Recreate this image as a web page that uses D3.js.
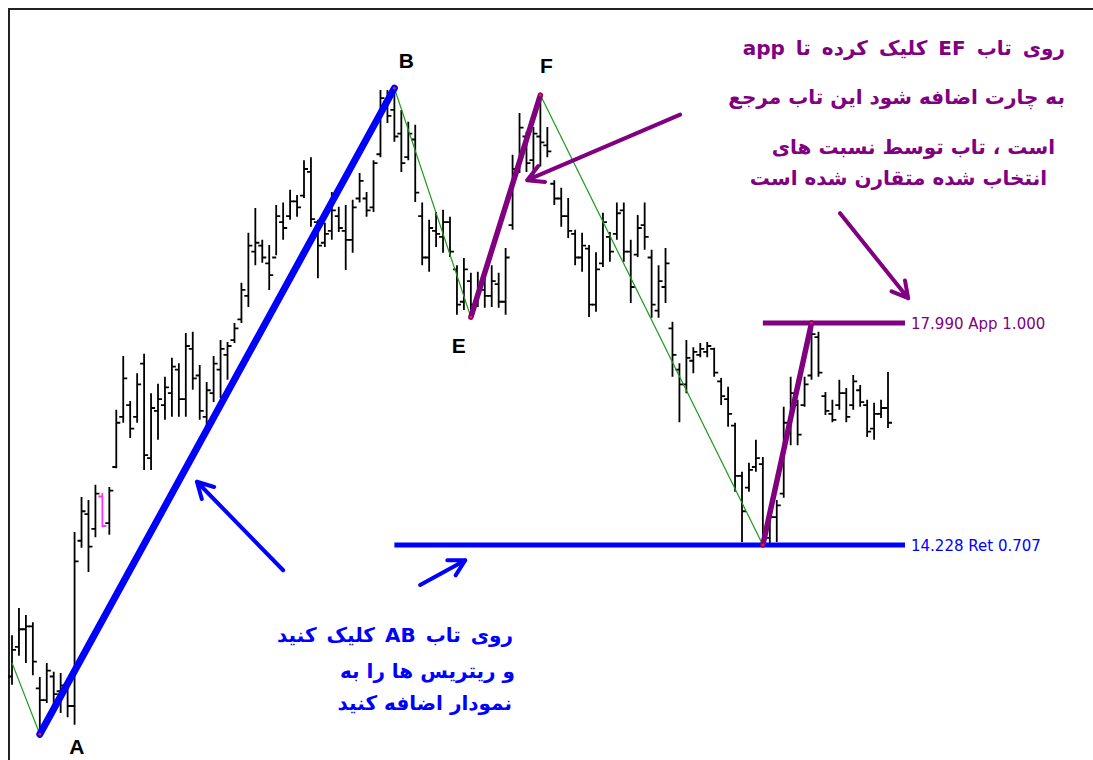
<!DOCTYPE html>
<html>
<head>
<meta charset="utf-8">
<script src="https://cdn.jsdelivr.net/npm/d3@7"></script>
<style>
  body { margin: 0; background: #fff; }
  svg { display: block; }
</style>
</head>
<body>
<div id="chart"></div>
<script>
// OHLC bars (price units)
const highs = [12.70, 13.16, 13.04, 12.92, 11.99, 12.23, 12.08, 12.06, 11.89, 14.45,
  15.04, 14.99, 15.25, 15.11, 15.21, 16.52, 17.43, 16.67, 17.14, 17.47,
  16.80, 16.96, 17.08, 17.40, 17.31, 17.82, 17.84, 17.28, 16.99, 17.43,
  17.70, 17.67, 17.99, 18.67, 19.52, 19.94, 19.40, 19.31, 19.99, 20.03,
  20.25, 20.16, 20.75, 20.80, 19.74, 19.69, 20.21, 19.96, 19.99, 20.08,
  20.53, 20.21, 20.75, 21.94, 21.94, 21.97, 21.60, 21.40, 21.35, 20.03,
  19.74, 19.87, 19.91, 19.79, 18.97, 19.09, 18.84, 18.86, 18.84, 18.97,
  18.84, 19.26, 20.84, 21.55, 21.23, 21.31, 21.852, 21.31, 20.41, 20.28,
  20.11, 19.57, 19.52, 19.31, 19.19, 19.86, 19.53, 20.03, 20.03, 19.40,
  19.82, 20.03, 19.23, 18.97, 19.26, 18.01, 17.31, 17.70, 17.58, 17.65,
  17.67, 17.57, 17.06, 16.91, 16.30, 15.47, 15.62, 16.01, 15.72, 14.82,
  14.99, 16.57, 17.08, 16.69, 17.08, 17.99, 17.84, 16.82, 16.69, 17.03,
  16.89, 17.11, 16.94, 16.69, 16.64, 16.69, 17.16];
const lows = [11.86, 12.35, 12.23, 12.02, 11.02, 11.55, 11.48, 11.38, 11.31, 11.18,
  14.18, 13.77, 14.36, 14.53, 14.40, 15.53, 16.30, 16.04, 16.30, 15.50,
  15.50, 16.01, 16.35, 16.40, 16.40, 16.40, 16.86, 16.35, 16.18, 16.65,
  16.72, 17.03, 17.65, 17.99, 18.26, 18.97, 19.01, 18.55, 19.14, 19.40,
  19.74, 19.79, 20.11, 19.62, 18.75, 19.28, 19.40, 19.53, 18.89, 19.18,
  20.03, 19.79, 19.87, 20.80, 21.38, 21.06, 20.55, 20.75, 20.04, 18.97,
  18.86, 19.28, 19.18, 19.11, 18.13, 18.21, 18.09, 18.26, 18.25, 18.26,
  18.25, 18.13, 19.57, 20.53, 20.55, 20.38, 20.64, 20.80, 19.99, 19.62,
  19.43, 18.97, 18.86, 18.09, 18.18, 18.94, 19.03, 19.40, 19.03, 18.33,
  19.11, 19.23, 18.08, 18.08, 18.33, 17.08, 16.31, 16.80, 17.14, 17.41,
  17.41, 17.08, 16.60, 16.23, 15.13, 14.28, 15.13, 15.47, 14.228, 14.26,
  14.28, 15.03, 15.92, 15.92, 16.57, 17.03, 17.08, 16.43, 16.31, 16.52,
  16.31, 16.52, 16.57, 16.06, 16.01, 16.38, 16.21];
const opens = [12.00, 12.50, 12.80, 12.85, 11.80, 11.60, 12.00, 11.75, 11.80, 11.50,
  14.30, 14.75, 14.50, 15.05, 14.60, 15.55, 16.40, 16.60, 16.40, 17.30,
  15.70, 16.50, 16.60, 16.80, 17.20, 16.70, 17.55, 17.10, 16.40, 16.80,
  17.20, 17.45, 17.70, 18.05, 18.45, 19.20, 19.30, 19.00, 19.10, 19.70,
  19.80, 20.05, 20.15, 20.55, 19.70, 19.35, 19.55, 19.80, 19.55, 19.40,
  20.10, 20.10, 19.95, 20.85, 21.75, 21.60, 21.20, 20.80, 21.10, 19.80,
  19.10, 19.55, 19.45, 19.70, 18.90, 18.35, 18.70, 18.30, 18.55, 18.45,
  18.65, 18.35, 19.65, 20.60, 21.15, 20.75, 21.15, 21.00, 20.35, 20.10,
  19.80, 19.50, 19.10, 19.25, 18.30, 19.00, 19.45, 19.50, 19.90, 19.20,
  19.15, 19.65, 19.10, 18.20, 18.60, 17.90, 17.20, 16.95, 17.35, 17.45,
  17.50, 17.55, 17.00, 16.70, 16.25, 15.40, 15.20, 15.55, 15.60, 14.35,
  14.70, 15.10, 16.20, 16.60, 16.60, 17.10, 17.75, 16.75, 16.45, 16.60,
  16.80, 16.60, 16.85, 16.60, 16.20, 16.45, 16.55];
const closes = [12.45, 12.80, 12.85, 12.25, 11.60, 12.10, 11.70, 11.85, 11.50, 13.95,
  14.80, 14.20, 15.10, 14.55, 15.15, 16.30, 17.05, 16.20, 16.95, 15.75,
  16.55, 16.70, 16.90, 17.25, 16.70, 17.60, 17.05, 16.50, 16.85, 17.30,
  17.55, 17.60, 17.90, 18.55, 19.30, 19.35, 19.10, 18.80, 19.80, 19.60,
  20.05, 19.95, 20.60, 19.75, 19.30, 19.50, 19.90, 19.60, 19.40, 19.95,
  20.40, 19.90, 20.70, 21.80, 21.50, 21.15, 20.70, 21.20, 20.20, 19.10,
  19.60, 19.50, 19.70, 19.20, 18.30, 18.90, 18.30, 18.60, 18.45, 18.70,
  18.35, 19.10, 20.60, 21.30, 20.70, 21.20, 21.05, 20.90, 20.10, 19.80,
  19.55, 19.10, 19.30, 18.30, 18.90, 19.70, 19.20, 19.85, 19.20, 18.60,
  19.60, 19.45, 18.30, 18.70, 19.00, 17.45, 16.95, 17.40, 17.50, 17.55,
  17.60, 17.15, 16.75, 16.45, 15.40, 14.80, 15.50, 15.70, 14.40, 14.70,
  14.90, 16.30, 16.80, 16.10, 16.95, 17.80, 17.15, 16.50, 16.35, 16.80,
  16.40, 17.00, 16.65, 16.15, 16.45, 16.55, 16.30];
const highlightBars = [13];

// zigzag pivots (bar index, price, name)
const pivotIndex = [0, 4, 55, 66, 76, 108, 115];
const pivotPrice = [12.23, 11.02, 21.97, 18.09, 21.852, 14.228, 17.990];
const pivotName = ["", "A", "B", "E", "F", "", ""];

// fibonacci levels
const levelValues = [14.228, 17.990];
const levelNames = ["Ret 0.707", "App 1.000"];
const levelFrom = [2, 5];   // pivot the level line starts at
const levelColors = ["#0000ff", "#800080"];

const topNote = ["روی تاب EF کلیک کرده تا app", "به چارت اضافه شود این تاب مرجع",
  "است ، تاب توسط  نسبت های", "انتخاب شده متقارن شده است"];
const bottomNote = ["روی تاب AB کلیک کنید", "و ریتریس ها را به", "نمودار اضافه کنید"];

const width = 1093, height = 760;
const svg = d3.select("#chart").append("svg")
  .attr("width", width).attr("height", height);

const x = d3.scaleLinear().domain([0, highs.length - 1]).range([12, 888]);
const y = d3.scaleLinear().domain([14.228, 17.990]).range([545, 323]);

// frame
svg.append("path").attr("d", `M9,${height} V9 H${width}`)
  .attr("fill", "none").attr("stroke", "#222").attr("stroke-width", 2);

// bars
const bars = d3.range(highs.length);
svg.append("g").selectAll("path").data(bars).enter().append("path")
  .attr("d", i => `M${x(i)},${y(highs[i])}V${y(lows[i])}` +
    `M${x(i) - 4},${y(opens[i])}H${x(i)}M${x(i)},${y(closes[i])}H${x(i) + 4}`)
  .attr("fill", "none")
  .attr("stroke", i => highlightBars.includes(i) ? "#ff33ff" : "#000")
  .attr("stroke-width", 1.8);

const px = k => x(pivotIndex[k]);
const py = k => y(pivotPrice[k]);

// thin green zigzag
[[0, 1], [2, 3], [4, 5]].forEach(([a, b]) => {
  svg.append("line").attr("x1", px(a)).attr("y1", py(a)).attr("x2", px(b)).attr("y2", py(b))
    .attr("stroke", "#1a9a1a").attr("stroke-width", 1.2);
});

// level lines
levelValues.forEach((v, k) => {
  svg.append("line").attr("x1", px(levelFrom[k])).attr("x2", 905)
    .attr("y1", y(v)).attr("y2", y(v))
    .attr("stroke", levelColors[k]).attr("stroke-width", 5);
  svg.append("text").attr("x", 911).attr("y", y(v) + 6)
    .attr("fill", levelColors[k])
    .style("font-family", "DejaVu Sans").style("font-size", "15px")
    .text(d3.format(".3f")(v) + " " + levelNames[k]);
});

// thick swing legs
svg.append("line").attr("x1", px(1)).attr("y1", py(1)).attr("x2", px(2)).attr("y2", py(2))
  .attr("stroke", "#0000ff").attr("stroke-width", 7).attr("stroke-linecap", "round");
[[3, 4], [5, 6]].forEach(([a, b]) => {
  svg.append("line").attr("x1", px(a)).attr("y1", py(a)).attr("x2", px(b)).attr("y2", py(b))
    .attr("stroke", "#800080").attr("stroke-width", 5.5).attr("stroke-linecap", "round");
});

// small red dots on pivots
svg.append("g").selectAll("circle").data(pivotIndex.slice(1)).enter().append("circle")
  .attr("cx", i => x(i)).attr("cy", (i, k) => y(pivotPrice[k + 1])).attr("r", 1.3)
  .attr("fill", "#ff2020");

// pivot letters
const letterOffset = { A: [37, 20], B: [12, -20], E: [-12, 36], F: [6, -22] };
pivotName.forEach((n, k) => {
  if (!n) return;
  svg.append("text").attr("x", px(k) + letterOffset[n][0]).attr("y", py(k) + letterOffset[n][1])
    .attr("text-anchor", "middle")
    .style("font-family", "Liberation Sans, Arial").style("font-weight", "bold")
    .style("font-size", "21px")
    .text(n);
});

// arrows (index, price)
const arrows = [
  { from: [39.0, 13.80], to: [26.6, 15.30], color: "#0000ff" },
  { from: [58.7, 13.55], to: [65.2, 13.97], color: "#0000ff" },
  { from: [96.1, 21.52], to: [74.1, 20.41], color: "#800080" },
  { from: [119.1, 19.85], to: [128.9, 18.41], color: "#800080" }
];
arrows.forEach(a => {
  const x1 = x(a.from[0]), y1 = y(a.from[1]), x2 = x(a.to[0]), y2 = y(a.to[1]);
  const ang = Math.atan2(y1 - y2, x1 - x2), len = 18, spread = 0.5;
  const h1 = [x2 + len * Math.cos(ang + spread), y2 + len * Math.sin(ang + spread)];
  const h2 = [x2 + len * Math.cos(ang - spread), y2 + len * Math.sin(ang - spread)];
  svg.append("path")
    .attr("d", `M${x1},${y1}L${x2},${y2}M${h1}L${x2},${y2}L${h2}`)
    .attr("fill", "none").attr("stroke", a.color).attr("stroke-width", 4)
    .attr("stroke-linecap", "round").attr("stroke-linejoin", "round");
});

// notes
const topRight = [1065, 1065, 1055, 1047], topBase = [55, 104, 154, 185];
topNote.forEach((t, k) => {
  svg.append("text").attr("x", topRight[k]).attr("y", topBase[k])
    .attr("direction", "rtl").attr("text-anchor", "start")
    .attr("fill", "#800080")
    .style("font-family", "DejaVu Sans").style("font-weight", "bold").style("font-size", "20px")
    .style("word-spacing", k === 0 ? "4px" : "0px")
    .text(t);
});
const botRight = [513, 515, 512], botBase = [642, 678, 710];
bottomNote.forEach((t, k) => {
  svg.append("text").attr("x", botRight[k]).attr("y", botBase[k])
    .attr("direction", "rtl").attr("text-anchor", "start")
    .attr("fill", "#0000ff")
    .style("font-family", "DejaVu Sans").style("font-weight", "bold").style("font-size", "20px")
    .style("word-spacing", k === 0 ? "3px" : "0px")
    .text(t);
});
</script>
</body>
</html>
